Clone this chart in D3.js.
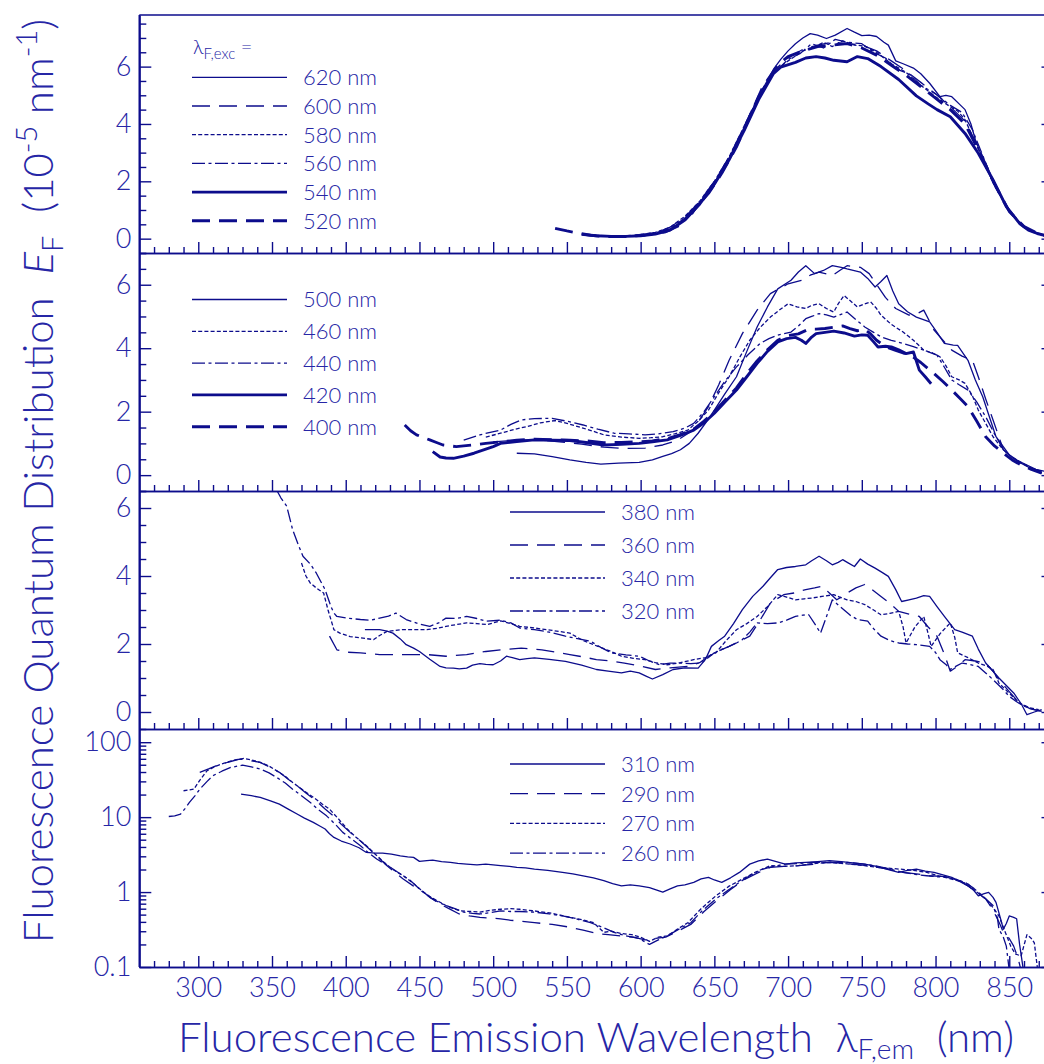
<!DOCTYPE html>
<html>
<head>
<meta charset="utf-8">
<script src="https://cdn.jsdelivr.net/npm/d3@7"></script>
<style>
  body { margin: 0; background: #fff; }
  svg { display: block; }
</style>
</head>
<body>
<div id="chart"></div>
<script>
// ---- data (wavelength nm, value) ----
const xTickValues = [300, 350, 400, 450, 500, 550, 600, 650, 700, 750, 800, 850];

// panel 1: excitation 520-620 nm
const p1_620 = [[635,0.85],[640,1.25],[650,1.95],[660,2.8],[670,3.85],[680,4.95],[690,5.9],[695,6.25],[700,6.55],[705,6.8],[710,7.0],[715,7.15],[720,7.1],[726,6.98],[732,7.1],[740,7.33],[745,7.2],[750,7.08],[755,7.1],[760,7.05],[765,6.85],[768,6.75],[773,6.2],[778,6.1],[785,5.95],[790,5.75],[796,5.42],[803,4.95],[807,5.0],[811,4.95],[816,4.7],[820,4.5],[824,4.0],[827,3.45],[834,2.5],[843,1.58],[850,1.0],[855,0.65],[860,0.42],[865,0.28],[870,0.18],[876,0.1]];
const p1_600 = [[615,0.3],[620,0.4],[630,0.75],[640,1.3],[650,2.0],[660,2.85],[670,3.9],[680,5.0],[690,5.85],[700,6.3],[710,6.6],[720,6.75],[730,6.85],[740,6.8],[750,6.75],[760,6.55],[770,6.2],[780,5.85],[790,5.45],[800,5.05],[810,4.6],[820,4.1],[830,3.1],[840,1.9],[850,0.95],[860,0.4],[870,0.16],[876,0.1]];
const p1_580 = [[600,0.15],[610,0.22],[620,0.4],[630,0.78],[640,1.3],[650,2.0],[660,2.85],[670,3.9],[680,4.95],[690,5.8],[700,6.2],[710,6.55],[717,6.65],[724,6.85],[730,6.7],[737,6.9],[745,6.75],[752,6.72],[760,6.5],[770,6.1],[780,5.8],[790,5.35],[800,4.95],[810,4.6],[815,4.45],[820,4.15],[830,3.0],[840,1.85],[850,0.95],[860,0.4],[870,0.15],[876,0.08]];
const p1_560 = [[580,0.08],[590,0.1],[600,0.13],[610,0.2],[620,0.35],[630,0.72],[640,1.25],[650,1.95],[660,2.8],[670,3.85],[680,4.95],[690,5.75],[700,6.25],[708,6.45],[716,6.8],[724,6.65],[732,6.95],[740,6.85],[750,6.8],[758,6.5],[766,6.3],[774,5.9],[782,5.75],[790,5.35],[800,5.05],[810,4.65],[818,4.4],[825,3.8],[832,2.9],[840,1.9],[850,0.98],[860,0.42],[870,0.17],[876,0.1]];
const p1_540 = [[560,0.15],[570,0.1],[580,0.08],[590,0.08],[600,0.1],[610,0.16],[620,0.3],[630,0.65],[640,1.2],[650,1.9],[660,2.75],[670,3.75],[680,4.85],[690,5.75],[695,5.98],[705,6.15],[712,6.3],[719,6.35],[725,6.3],[731,6.22],[740,6.17],[747,6.35],[754,6.28],[763,6.0],[775,5.55],[787,4.98],[795,4.7],[801,4.5],[810,4.25],[820,3.67],[829,2.98],[839,2.05],[848,1.12],[857,0.53],[863,0.3],[869,0.18],[876,0.08]];
const p1_520 = [[542,0.36],[550,0.27],[558,0.19],[566,0.12],[575,0.07],[589,0.07],[603,0.13],[617,0.24],[627,0.48],[636,1.0],[646,1.58],[655,2.28],[665,3.2],[674,4.26],[683,5.3],[693,6.05],[700,6.35],[710,6.55],[720,6.7],[730,6.75],[740,6.8],[750,6.65],[760,6.4],[770,6.05],[780,5.7],[790,5.3],[800,4.9],[810,4.5],[820,4.0],[830,3.0],[840,1.9],[850,0.95],[860,0.42],[870,0.16],[876,0.1]];

// panel 2: excitation 400-500 nm (480 nm drawn, not in legend)
const p2_500 = [[516,0.69],[528,0.67],[540,0.58],[552,0.48],[563,0.4],[573,0.35],[585,0.38],[599,0.4],[608,0.48],[615,0.59],[621,0.68],[627,0.8],[633,1.0],[639,1.32],[645,1.7],[650,2.05],[657,2.55],[665,3.1],[672,3.9],[679,4.67],[686,5.3],[693,5.87],[702,6.14],[707,6.4],[712,6.6],[718,6.35],[724,6.45],[730,6.6],[736,6.55],[740,6.5],[749,6.4],[754,6.2],[759,5.93],[763,6.1],[767,6.29],[771,5.8],[775,5.4],[781,5.15],[787,4.98],[796,4.83],[801,4.5],[806,4.15],[812,4.1],[815,4.09],[822,3.62],[827,3.0],[832,2.47],[841,1.21],[850,0.64],[856,0.45],[862,0.32],[868,0.18],[876,0.1]];
const p2_480 = [[500,1.05],[515,1.1],[530,1.12],[545,1.05],[560,0.98],[575,0.88],[590,0.84],[603,0.85],[615,0.95],[625,1.1],[635,1.4],[646,2.16],[653,2.85],[660,3.62],[669,4.46],[679,5.2],[688,5.72],[700,6.03],[709,6.14],[715,6.3],[721,6.4],[730,6.29],[735,6.45],[740,6.6],[749,6.55],[755,6.35],[759,6.08],[766,5.6],[773,5.25],[782,5.04],[788,5.1],[792,5.2],[799,4.57],[805,4.25],[811,3.94],[818,3.75],[825,3.62],[829,3.1],[834,2.4],[839,1.74],[846,0.8],[852,0.55],[858,0.38],[865,0.2],[872,0.08]];
const p2_460 = [[495,1.2],[505,1.32],[515,1.45],[523,1.53],[532,1.65],[542,1.72],[551,1.62],[561,1.48],[568,1.38],[575,1.27],[587,1.2],[599,1.16],[607,1.18],[615,1.21],[623,1.3],[632,1.42],[639,1.7],[646,2.05],[653,2.6],[660,3.1],[667,3.7],[674,4.25],[681,4.65],[688,4.98],[694,5.2],[700,5.4],[706,5.3],[712,5.25],[716,5.35],[721,5.4],[726,5.25],[731,5.14],[734,5.4],[738,5.66],[742,5.5],[747,5.3],[752,5.4],[756,5.46],[760,5.25],[763,5.04],[770,4.75],[778,4.51],[785,4.25],[792,3.94],[798,3.85],[803,3.73],[807,3.45],[811,3.1],[816,3.0],[820,2.89],[825,2.5],[829,2.05],[839,1.21],[845,0.85],[851,0.59],[858,0.4],[865,0.22],[872,0.06]];
const p2_440 = [[480,1.1],[491,1.27],[498,1.35],[505,1.42],[512,1.6],[519,1.74],[528,1.78],[540,1.79],[550,1.7],[561,1.58],[571,1.45],[582,1.32],[592,1.3],[603,1.27],[612,1.3],[622,1.37],[630,1.48],[636,1.63],[643,2.0],[650,2.47],[657,2.95],[665,3.41],[673,3.8],[681,4.15],[687,4.3],[693,4.41],[702,4.51],[707,4.7],[712,4.93],[716,5.0],[721,5.09],[726,5.05],[731,4.98],[735,5.05],[740,5.14],[746,4.9],[752,4.67],[758,4.5],[763,4.36],[770,4.25],[778,4.15],[785,4.05],[792,3.94],[801,3.78],[806,3.4],[811,3.0],[816,2.85],[822,2.68],[828,2.3],[834,1.84],[840,1.3],[846,0.8],[852,0.55],[858,0.38],[865,0.22],[872,0.12]];
const p2_420 = [[459,0.74],[464,0.57],[468,0.54],[473,0.53],[480,0.6],[487,0.69],[494,0.8],[500,0.9],[505,1.0],[516,1.06],[528,1.11],[540,1.1],[552,1.09],[563,1.03],[575,0.95],[587,0.97],[599,1.0],[608,1.05],[618,1.11],[627,1.25],[636,1.42],[643,1.65],[650,1.95],[657,2.3],[665,2.68],[672,3.1],[679,3.52],[686,3.9],[693,4.2],[699,4.3],[705,4.34],[709,4.25],[712,4.15],[716,4.35],[719,4.46],[725,4.5],[731,4.54],[738,4.48],[745,4.38],[750,4.42],[754,4.41],[758,4.2],[761,4.04],[766,4.06],[770,4.04],[775,3.95],[780,3.83],[785,3.88],[789,3.31],[793,3.1],[797,2.88]];
const p2_400 = [[440,1.58],[444,1.4],[448,1.27],[453,1.18],[457,1.11],[462,1.02],[466,0.95],[475,0.9],[486,0.95],[495,1.0],[505,1.05],[516,1.1],[528,1.13],[540,1.12],[552,1.1],[563,1.08],[575,1.02],[587,1.03],[599,1.05],[608,1.08],[618,1.15],[627,1.28],[636,1.45],[643,1.7],[650,2.0],[657,2.35],[665,2.75],[672,3.2],[679,3.6],[686,3.95],[693,4.25],[700,4.4],[707,4.45],[714,4.6],[719,4.6],[725,4.62],[731,4.66],[737,4.7],[742,4.62],[747,4.55],[752,4.6],[756,4.45],[760,4.25],[766,4.05],[772,3.95],[778,3.85],[784,3.75],[790,3.55],[795,3.35],[799,3.2],[805,2.95],[811,2.68],[817,2.4],[822,2.16],[828,1.7],[834,1.21],[840,0.92],[846,0.69],[852,0.48],[858,0.32],[865,0.18],[872,0.06]];

// panel 3: excitation 320-380 nm
const p3_380 = [[413,2.42],[423,2.42],[428,2.38],[432,2.32],[437,2.15],[441,1.98],[446,1.88],[450,1.78],[457,1.55],[464,1.34],[468,1.3],[473,1.29],[477,1.27],[482,1.29],[486,1.38],[491,1.42],[495,1.4],[500,1.39],[505,1.5],[509,1.64],[513,1.6],[518,1.54],[523,1.57],[528,1.59],[538,1.55],[549,1.49],[560,1.38],[570,1.25],[578,1.2],[587,1.15],[593,1.2],[599,1.15],[604,1.05],[608,0.97],[615,1.1],[622,1.25],[630,1.3],[639,1.29],[644,1.55],[648,1.93],[653,2.1],[657,2.23],[663,2.6],[669,3.01],[676,3.4],[683,3.7],[688,3.95],[693,4.19],[699,4.25],[705,4.28],[712,4.33],[716,4.45],[721,4.58],[726,4.45],[730,4.33],[734,4.4],[737,4.48],[741,4.38],[745,4.28],[749,4.5],[754,4.35],[759,4.23],[764,4.1],[768,3.99],[773,3.6],[777,3.25],[782,3.3],[787,3.35],[792,3.42],[796,3.4],[801,3.1],[806,2.81],[813,2.42],[818,2.35],[825,2.23],[829,1.85],[834,1.44],[839,1.2],[843,1.0],[848,0.78],[853,0.56],[858,0.25],[862,-0.08],[867,0.0],[872,0.07]];
const p3_360 = [[389,2.23],[394,1.83],[400,1.76],[410,1.74],[423,1.69],[437,1.69],[455,1.69],[468,1.64],[482,1.69],[495,1.78],[505,1.83],[519,1.88],[533,1.83],[545,1.74],[552,1.69],[561,1.62],[570,1.54],[580,1.5],[589,1.44],[600,1.35],[610,1.25],[620,1.3],[632,1.34],[640,1.45],[646,1.64],[653,1.8],[660,1.93],[667,2.08],[674,2.23],[681,2.7],[688,3.21],[697,3.45],[704,3.5],[712,3.6],[718,3.65],[723,3.7],[728,3.5],[733,3.3],[737,3.4],[740,3.5],[746,3.65],[752,3.75],[757,3.6],[763,3.4],[769,3.2],[775,2.96],[782,2.88],[789,2.81],[795,2.5],[801,2.23],[806,1.7],[810,1.2],[815,1.35],[820,1.54],[827,1.5],[834,1.44],[839,1.2],[843,0.95],[850,0.6],[857,0.26],[864,0.1],[872,0.02]];
const p3_340 = [[370,4.38],[373,4.0],[376,3.79],[380,3.65],[385,3.5],[388,3.0],[392,2.42],[396,2.32],[403,2.22],[410,2.18],[419,2.13],[423,2.25],[428,2.37],[437,2.42],[446,2.42],[455,2.42],[462,2.46],[468,2.52],[475,2.57],[482,2.62],[489,2.6],[496,2.57],[505,2.68],[512,2.6],[518,2.52],[528,2.47],[540,2.4],[552,2.32],[561,2.1],[571,1.93],[580,1.78],[587,1.64],[595,1.58],[603,1.54],[610,1.45],[618,1.39],[627,1.45],[636,1.54],[644,1.6],[651,1.74],[658,2.1],[665,2.42],[672,2.6],[679,2.81],[686,3.1],[693,3.45],[699,3.38],[705,3.3],[711,3.33],[716,3.35],[723,3.4],[731,3.45],[735,3.38],[740,3.3],[746,3.25],[752,3.16],[758,3.0],[763,2.86],[769,2.9],[775,2.96],[778,2.5],[780,2.03],[786,2.5],[792,2.81],[795,2.3],[797,1.93],[803,2.3],[810,2.62],[813,2.2],[815,1.74],[822,1.6],[829,1.44],[835,1.35],[839,1.25],[843,0.85],[850,0.55],[857,0.26],[864,0.12],[870,0.07]];
const p3_320 = [[353,6.54],[356,6.3],[360,6.05],[364,5.36],[368,4.9],[371,4.58],[376,4.35],[380,4.09],[386,3.6],[390,3.1],[392,2.91],[394,2.81],[401,2.76],[410,2.72],[417,2.7],[423,2.76],[429,2.82],[434,2.91],[441,2.72],[449,2.6],[457,2.52],[463,2.62],[468,2.76],[475,2.75],[482,2.81],[489,2.75],[495,2.67],[505,2.7],[512,2.62],[518,2.47],[528,2.42],[538,2.35],[549,2.23],[558,2.15],[566,2.08],[573,1.9],[580,1.74],[590,1.68],[599,1.64],[606,1.5],[613,1.39],[620,1.44],[627,1.44],[634,1.42],[641,1.44],[646,1.6],[650,1.74],[655,1.84],[660,1.93],[665,2.03],[669,2.13],[674,2.35],[679,2.62],[686,2.6],[693,2.62],[699,2.7],[705,2.81],[710,2.85],[714,2.86],[718,2.6],[722,2.32],[726,2.8],[730,3.3],[734,3.15],[738,3.0],[742,2.85],[747,2.72],[754,2.67],[758,2.45],[763,2.23],[769,2.1],[775,2.03],[781,2.0],[787,1.98],[796,1.93],[800,1.75],[803,1.54],[807,1.4],[810,1.25],[814,1.35],[818,1.44],[823,1.4],[829,1.34],[834,1.15],[839,0.95],[845,0.7],[850,0.46],[855,0.3],[860,0.17],[866,0.08],[872,0.02]];

// panel 4 (log scale): excitation 260-310 nm
const p4_310 = [[329,20.3],[336,19.3],[342,18.3],[349,16.5],[355,14.9],[361,12.8],[367,11.0],[372,9.7],[378,8.5],[383,7.5],[386,6.95],[389,6.0],[392,5.36],[397,4.8],[403,4.38],[409,3.9],[414,3.38],[420,3.3],[425,3.31],[431,3.2],[437,3.05],[442,2.95],[446,2.9],[450,2.57],[455,2.62],[459,2.67],[465,2.55],[471,2.49],[476,2.42],[482,2.36],[489,2.3],[495,2.36],[500,2.3],[505,2.25],[511,2.2],[516,2.13],[522,2.1],[528,2.03],[537,1.95],[547,1.83],[554,1.75],[561,1.65],[568,1.55],[575,1.42],[581,1.3],[587,1.21],[593,1.25],[599,1.21],[606,1.15],[610,1.08],[615,1.0],[620,1.1],[625,1.21],[630,1.25],[636,1.35],[641,1.5],[646,1.57],[650,1.45],[655,1.35],[661,1.55],[667,1.83],[674,2.36],[680,2.6],[686,2.76],[692,2.55],[698,2.36],[705,2.45],[712,2.49],[720,2.55],[728,2.62],[736,2.55],[744,2.45],[752,2.36],[760,2.2],[768,2.0],[775,1.83],[781,1.95],[787,2.03],[793,1.9],[799,1.83],[805,1.7],[811,1.57],[816,1.4],[822,1.21],[826,1.05],[829,0.89],[833,0.95],[836,0.99],[839,0.85],[841,0.73],[844,0.45],[846,0.32],[848,0.38],[850,0.48],[853,0.46],[855,0.44],[857,0.2],[860,0.08]];
const p4_290 = [[301,39.6],[307,44],[312,48.4],[320,54],[328,59.6],[335,57],[342,53.7],[348,47],[355,39.6],[361,32],[367,26.3],[373,21],[380,16.5],[386,12.8],[392,10.2],[397,8.0],[403,6.26],[410,4.8],[416,3.75],[422,2.9],[428,2.25],[433,1.85],[439,1.49],[446,1.2],[453,0.99],[458,0.83],[464,0.69],[470,0.6],[477,0.51],[484,0.48],[491,0.46],[498,0.45],[505,0.44],[512,0.42],[518,0.41],[528,0.39],[540,0.37],[552,0.34],[561,0.31],[570,0.28],[578,0.27],[587,0.26],[595,0.25],[603,0.23],[610,0.24],[617,0.25],[625,0.3],[634,0.37],[643,0.55],[653,0.81],[661,1.08],[669,1.42],[678,1.75],[688,2.14],[697,2.2],[707,2.25],[717,2.35],[728,2.49],[740,2.4],[754,2.25],[766,2.05],[778,1.83],[787,1.75],[796,1.65],[804,1.62],[811,1.57],[817,1.4],[822,1.21],[828,1.0],[834,0.81],[838,0.62],[841,0.48],[844,0.36],[846,0.29],[850,0.24],[853,0.19],[856,0.13],[858,0.09]];
const p4_270 = [[290,22.5],[297,23.6],[301,31],[306,41.7],[312,48],[319,53.7],[325,58],[331,60.8],[336,58],[342,53.7],[348,48],[353,41.7],[359,35],[364,29],[371,23],[378,18.4],[384,15],[389,12.8],[395,9.5],[401,6.95],[407,5.4],[414,4.15],[420,3.2],[426,2.49],[432,2.0],[439,1.65],[446,1.3],[453,0.99],[458,0.85],[464,0.73],[470,0.63],[478,0.56],[485,0.55],[491,0.54],[498,0.57],[505,0.59],[512,0.6],[518,0.59],[528,0.56],[540,0.52],[552,0.46],[560,0.43],[568,0.39],[575,0.29],[580,0.3],[587,0.28],[594,0.27],[600,0.25],[606,0.22],[612,0.25],[618,0.26],[625,0.32],[632,0.39],[641,0.6],[651,0.89],[660,1.2],[669,1.49],[678,1.85],[688,2.25],[697,2.2],[707,2.25],[717,2.4],[728,2.49],[740,2.38],[752,2.25],[763,2.12],[775,2.03],[785,1.95],[794,1.83],[802,1.65],[811,1.49],[816,1.4],[822,1.28],[828,1.0],[834,0.81],[839,0.62],[843,0.48],[847,0.3],[851,0.19],[854,0.15],[858,0.14],[862,0.27],[865,0.24],[867,0.21],[869,0.1]];
const p4_260 = [[280,10.2],[284,10.4],[288,11],[291,13],[294,15.7],[298,19.5],[301,23.6],[306,30],[310,35.8],[316,41],[322,46],[330,49.4],[336,47],[342,43.8],[348,39],[353,34],[359,28.5],[364,23.6],[370,19.3],[376,15.7],[381,12.8],[387,10.4],[393,8.0],[398,6.26],[404,5.1],[410,4.15],[415,3.4],[421,2.76],[427,2.35],[432,2.03],[438,1.7],[444,1.42],[450,1.1],[457,0.85],[462,0.75],[468,0.66],[474,0.6],[480,0.54],[486,0.52],[491,0.51],[498,0.53],[505,0.56],[512,0.55],[518,0.55],[528,0.54],[538,0.51],[547,0.48],[556,0.44],[566,0.39],[574,0.34],[582,0.29],[590,0.26],[599,0.24],[606,0.2],[612,0.23],[618,0.26],[626,0.32],[634,0.39],[642,0.57],[651,0.81],[659,1.05],[667,1.35],[675,1.7],[683,2.03],[690,2.2],[698,2.36],[707,2.4],[716,2.49],[728,2.5],[740,2.49],[750,2.38],[759,2.25],[768,2.05],[778,1.83],[786,1.72],[794,1.65],[801,1.6],[808,1.57],[814,1.47],[820,1.35],[826,1.12],[832,0.89],[836,0.75],[839,0.66],[842,0.45],[843,0.32],[846,0.25],[848,0.19],[850,0.09]];

// ---- styles ----
const ink = "#0c0c8c";
const textInk = "#2626a6";
const FONT = "Lato, 'Liberation Sans', Arial, sans-serif";
const FW = 300;
const styles = {
  solid:     { w: 1.3, dash: null },
  longdash:  { w: 1.3, dash: "18,9" },
  shortdash: { w: 1.3, dash: "4,2.2" },
  dashdot:   { w: 1.3, dash: "13,3.5,3,3.5" },
  thick:     { w: 2.9, dash: null },
  thickdash: { w: 2.9, dash: "18,9" }
};

const panels = [
  { domain: [-0.5, 7.8], log: false, majors: [0, 2, 4, 6],
    series: [
      { name: "620 nm", style: "solid", data: p1_620 },
      { name: "600 nm", style: "longdash", data: p1_600 },
      { name: "580 nm", style: "shortdash", data: p1_580 },
      { name: "560 nm", style: "dashdot", data: p1_560 },
      { name: "540 nm", style: "thick", data: p1_540 },
      { name: "520 nm", style: "thickdash", data: p1_520 }
    ],
    legend: { x0: 192, x1: 287, tx: 303, y0: 77.3, dy: 28.7, header: true } },
  { domain: [-0.5, 7], log: false, majors: [0, 2, 4, 6],
    series: [
      { name: "500 nm", style: "solid", data: p2_500 },
      { name: null, style: "longdash", data: p2_480 },
      { name: "460 nm", style: "shortdash", data: p2_460 },
      { name: "440 nm", style: "dashdot", data: p2_440 },
      { name: "420 nm", style: "thick", data: p2_420 },
      { name: "400 nm", style: "thickdash", data: p2_400 }
    ],
    legend: { x0: 192, x1: 287, tx: 303, y0: 299.5, dy: 31.8 } },
  { domain: [-0.5, 6.5], log: false, majors: [0, 2, 4, 6],
    series: [
      { name: "380 nm", style: "solid", data: p3_380 },
      { name: "360 nm", style: "longdash", data: p3_360 },
      { name: "340 nm", style: "shortdash", data: p3_340 },
      { name: "320 nm", style: "dashdot", data: p3_320 }
    ],
    legend: { x0: 510, x1: 605, tx: 621, y0: 512, dy: 33 } },
  { domain: [0.1, 150], log: true, majors: [0.1, 1, 10, 100],
    series: [
      { name: "310 nm", style: "solid", data: p4_310 },
      { name: "290 nm", style: "longdash", data: p4_290 },
      { name: "270 nm", style: "shortdash", data: p4_270 },
      { name: "260 nm", style: "dashdot", data: p4_260 }
    ],
    legend: { x0: 510, x1: 605, tx: 621, y0: 764, dy: 29.7 } }
];

// ---- layout ----
const width = 1044, height = 1064;
const plotLeft = 139.3, plotRight = 1053.5, plotTop = 15, panelH = 238;

const svg = d3.select("#chart").append("svg")
  .attr("width", width).attr("height", height)
  .attr("viewBox", [0, 0, width, height]);

const x = d3.scaleLinear().domain([260, 880]).range([plotLeft, plotRight]);

function styleAxis(g, fs) {
  g.attr("font-family", FONT).attr("font-size", fs).attr("font-weight", FW);
  g.selectAll("line").attr("stroke", ink).attr("stroke-width", 1.4);
  g.selectAll("path.domain").attr("stroke", ink).attr("stroke-width", 1.6);
  g.selectAll("text").attr("fill", textInk);
}

panels.forEach((p, i) => {
  const y0 = plotTop + i * panelH, y1 = y0 + panelH;
  const y = p.log
    ? d3.scaleLog().domain(p.domain).range([y1, y0])
    : d3.scaleLinear().domain(p.domain).range([y1, y0]);

  // minor ticks
  let minors;
  if (p.log) {
    minors = [];
    [0.1, 1, 10].forEach(d => { for (let k = 2; k <= 9; k++) minors.push(+(d * k).toFixed(2)); });
  } else {
    minors = d3.range(p.domain[0], p.domain[1] + 0.001, 0.5).filter(v => !p.majors.includes(v));
  }
  const xMinors = d3.range(270, 881, 10).filter(v => v % 50 !== 0);

  // clip
  svg.append("clipPath").attr("id", "clip" + i)
    .append("rect").attr("x", plotLeft).attr("y", y0).attr("width", plotRight - plotLeft).attr("height", panelH);

  // curves
  const line = d3.line().x(d => x(d[0])).y(d => y(d[1]));
  const gc = svg.append("g").attr("clip-path", `url(#clip${i})`);
  p.series.forEach(s => {
    const st = styles[s.style];
    gc.append("path").datum(s.data)
      .attr("d", line)
      .attr("fill", "none")
      .attr("stroke", ink)
      .attr("stroke-width", st.w)
      .attr("stroke-linejoin", "round")
      .attr("stroke-dasharray", st.dash);
  });

  // left axis
  const gl = svg.append("g").attr("transform", `translate(${plotLeft},0)`)
    .call(d3.axisLeft(y).tickValues(p.majors).tickSize(-12).tickSizeOuter(0).tickPadding(8)
      .tickFormat(d => p.log ? (d < 1 ? "0.1" : d3.format("d")(d)) : d));
  styleAxis(gl, 27);
  const glm = svg.append("g").attr("transform", `translate(${plotLeft},0)`)
    .call(d3.axisLeft(y).tickValues(minors).tickSize(-7).tickSizeOuter(0).tickFormat(""));
  styleAxis(glm, 10);

  // right axis
  const gr = svg.append("g").attr("transform", `translate(${plotRight},0)`)
    .call(d3.axisRight(y).tickValues(p.majors).tickSize(-12).tickSizeOuter(0).tickFormat(""));
  styleAxis(gr, 10);
  const grm = svg.append("g").attr("transform", `translate(${plotRight},0)`)
    .call(d3.axisRight(y).tickValues(minors).tickSize(-7).tickSizeOuter(0).tickFormat(""));
  styleAxis(grm, 10);

  // bottom axis
  const last = i === panels.length - 1;
  const gb = svg.append("g").attr("transform", `translate(0,${y1})`)
    .call(d3.axisBottom(x).tickValues(xTickValues).tickSize(-11).tickSizeOuter(0).tickPadding(11)
      .tickFormat(last ? d3.format("d") : ""));
  styleAxis(gb, 27);
  const gbm = svg.append("g").attr("transform", `translate(0,${y1})`)
    .call(d3.axisBottom(x).tickValues(xMinors).tickSize(-6).tickSizeOuter(0).tickFormat(""));
  styleAxis(gbm, 10);

  // top border of the stack
  if (i === 0) {
    svg.append("line").attr("x1", plotLeft).attr("x2", plotRight).attr("y1", y0).attr("y2", y0)
      .attr("stroke", ink).attr("stroke-width", 1.6);
  }

  // legend
  const lg = p.legend;
  const g = svg.append("g").attr("font-family", FONT).attr("font-weight", FW).attr("fill", textInk);
  if (lg.header) {
    const t = g.append("text").attr("x", lg.x0 + 1).attr("y", 54).attr("font-size", 20);
    t.append("tspan").text("λ");
    t.append("tspan").attr("font-size", 15).attr("dy", 5).text("F,exc");
    t.append("tspan").attr("dy", -5).text(" =");
  }
  p.series.filter(s => s.name).forEach((s, k) => {
    const st = styles[s.style];
    const yy = lg.y0 + k * lg.dy;
    g.append("line").attr("x1", lg.x0).attr("x2", lg.x1).attr("y1", yy).attr("y2", yy)
      .attr("stroke", ink).attr("stroke-width", st.w).attr("stroke-dasharray", st.dash);
    g.append("text").attr("x", lg.tx).attr("y", yy).attr("dy", "0.36em")
      .attr("font-size", 22).text(s.name);
  });
});

// left axis line over the whole height
svg.append("line").attr("x1", plotLeft).attr("x2", plotLeft).attr("y1", plotTop).attr("y2", plotTop + 4 * panelH)
  .attr("stroke", ink).attr("stroke-width", 1.6);

// axis titles
const xt = svg.append("text")
  .attr("x", 596).attr("y", 1052).attr("text-anchor", "middle")
  .attr("font-family", FONT).attr("font-weight", FW).attr("font-size", 42).attr("fill", textInk);
xt.append("tspan").text("Fluorescence Emission Wavelength\u00a0\u00a0λ");
xt.append("tspan").attr("font-size", 28).attr("dy", 7).text("F,em");
xt.append("tspan").attr("dy", -7).text("\u00a0\u00a0(nm)");

const yt = svg.append("text")
  .attr("transform", "translate(53,481) rotate(-90)")
  .attr("text-anchor", "middle")
  .attr("font-family", FONT).attr("font-weight", FW).attr("font-size", 42).attr("fill", textInk);
yt.append("tspan").text("Fluorescence Quantum Distribution\u00a0\u00a0");
yt.append("tspan").attr("font-style", "italic").text("E");
yt.append("tspan").attr("font-size", 29).attr("dy", 10).text("F");
yt.append("tspan").attr("dy", -10).text("\u00a0\u00a0(10");
yt.append("tspan").attr("font-size", 29).attr("dy", -16).text("-5");
yt.append("tspan").attr("dy", 16).text(" nm");
yt.append("tspan").attr("font-size", 29).attr("dy", -16).text("-1");
yt.append("tspan").attr("dy", 16).text(")");
</script>
</body>
</html>
